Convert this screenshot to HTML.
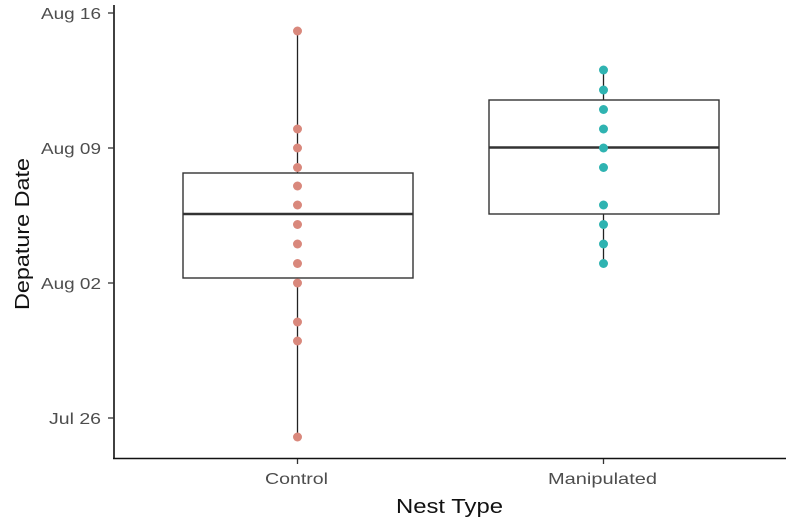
<!DOCTYPE html>
<html><head><meta charset="utf-8"><style>
html,body{margin:0;padding:0;background:#fff;}
svg{display:block;}
text{font-family:"Liberation Sans",Arial,sans-serif;}
</style></head><body>
<svg width="800" height="531" viewBox="0 0 800 531" xmlns="http://www.w3.org/2000/svg">
<rect width="800" height="531" fill="#fff"/>
<!-- whiskers -->
<line x1="297.5" y1="31" x2="297.5" y2="437" stroke="#222" stroke-width="1.3"/>
<line x1="603.5" y1="70" x2="603.5" y2="264" stroke="#222" stroke-width="1.3"/>
<!-- boxes -->
<rect x="183" y="173" width="230" height="105" fill="#fff" stroke="#333" stroke-width="1.4"/>
<line x1="183" y1="214" x2="413" y2="214" stroke="#333" stroke-width="2.6"/>
<rect x="489" y="100" width="230" height="114" fill="#fff" stroke="#333" stroke-width="1.4"/>
<line x1="489" y1="147.5" x2="719" y2="147.5" stroke="#333" stroke-width="2.6"/>
<!-- control points -->
<g fill="#d9887c">
<circle cx="297.5" cy="31" r="4.5"/>
<circle cx="297.5" cy="129" r="4.5"/>
<circle cx="297.5" cy="148" r="4.5"/>
<circle cx="297.5" cy="167.5" r="4.5"/>
<circle cx="297.5" cy="186" r="4.5"/>
<circle cx="297.5" cy="205" r="4.5"/>
<circle cx="297.5" cy="224.5" r="4.5"/>
<circle cx="297.5" cy="244" r="4.5"/>
<circle cx="297.5" cy="263.5" r="4.5"/>
<circle cx="297.5" cy="283" r="4.5"/>
<circle cx="297.5" cy="322" r="4.5"/>
<circle cx="297.5" cy="341" r="4.5"/>
<circle cx="297.5" cy="437" r="4.5"/>
</g>
<g fill="#2fb3b1">
<circle cx="603.5" cy="70" r="4.5"/>
<circle cx="603.5" cy="90" r="4.5"/>
<circle cx="603.5" cy="109.5" r="4.5"/>
<circle cx="603.5" cy="129" r="4.5"/>
<circle cx="603.5" cy="148" r="4.5"/>
<circle cx="603.5" cy="167.5" r="4.5"/>
<circle cx="603.5" cy="205" r="4.5"/>
<circle cx="603.5" cy="224.5" r="4.5"/>
<circle cx="603.5" cy="244" r="4.5"/>
<circle cx="603.5" cy="263.5" r="4.5"/>
</g>
<!-- axes -->
<line x1="114" y1="5" x2="114" y2="459" stroke="#111" stroke-width="1.6"/>
<line x1="113" y1="458.5" x2="786" y2="458.5" stroke="#111" stroke-width="1.6"/>
<!-- y ticks -->
<g stroke="#333" stroke-width="1.3">
<line x1="108" y1="13" x2="114" y2="13"/>
<line x1="108" y1="148" x2="114" y2="148"/>
<line x1="108" y1="283" x2="114" y2="283"/>
<line x1="108" y1="418" x2="114" y2="418"/>
<line x1="297.5" y1="459" x2="297.5" y2="464"/>
<line x1="603.5" y1="459" x2="603.5" y2="464"/>
</g>
<g fill="#4d4d4d" font-size="16">
<text x="41" y="19" textLength="60" lengthAdjust="spacingAndGlyphs">Aug 16</text>
<text x="41" y="154" textLength="60" lengthAdjust="spacingAndGlyphs">Aug 09</text>
<text x="41" y="289" textLength="60" lengthAdjust="spacingAndGlyphs">Aug 02</text>
<text x="49" y="424" textLength="52" lengthAdjust="spacingAndGlyphs">Jul 26</text>
</g>
<g fill="#4d4d4d" font-size="16">
<text x="265" y="484" textLength="63" lengthAdjust="spacingAndGlyphs">Control</text>
<text x="548" y="484" textLength="109" lengthAdjust="spacingAndGlyphs">Manipulated</text>
</g>
<text x="396" y="513" font-size="20" fill="#111" textLength="107" lengthAdjust="spacingAndGlyphs">Nest Type</text>
<text transform="translate(29,310) rotate(-90)" font-size="20" fill="#111" textLength="152" lengthAdjust="spacingAndGlyphs">Depature Date</text>
</svg>
</body></html>
